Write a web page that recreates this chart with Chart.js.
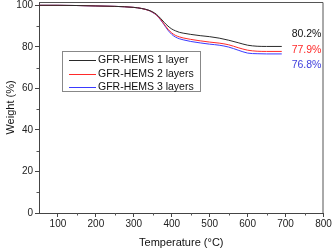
<!DOCTYPE html>
<html>
<head>
<meta charset="utf-8">
<script src="https://cdn.jsdelivr.net/npm/chart.js@4"></script>
<style>
  html, body { margin: 0; padding: 0; background: #fff; }
  #wrap { width: 333px; height: 251px; }
</style>
</head>
<body>
<div id="wrap"><canvas id="chart"></canvas></div>
<script>
// temperatures (°C)
var temps = [50, 100, 150, 200, 250, 300, 320, 340, 350, 360, 370, 380, 390, 400, 410, 420, 430, 450, 475, 500, 525, 550, 575, 600, 625, 650, 690];
// weight (%)
var layer1 = [100, 100, 99.9, 99.7, 99.5, 99.0, 98.5, 97.6, 96.8, 95.6, 93.8, 91.8, 90.0, 88.6, 87.7, 87.0, 86.6, 86.0, 85.4, 84.9, 84.2, 83.2, 82.0, 80.8, 80.3, 80.2, 80.2];
var layer2 = [100, 100, 99.9, 99.7, 99.5, 99.0, 98.5, 97.5, 96.6, 95.3, 93.3, 90.9, 88.5, 86.7, 85.5, 84.8, 84.3, 83.6, 82.9, 82.3, 81.8, 81.0, 79.6, 78.4, 77.9, 77.8, 77.8];
var layer3 = [100, 100, 99.9, 99.7, 99.5, 99.0, 98.5, 97.5, 96.5, 95.2, 93.1, 90.6, 88.0, 86.0, 84.7, 83.9, 83.4, 82.6, 81.9, 81.3, 80.8, 79.9, 78.4, 77.0, 76.7, 76.6, 76.6];
var seriesNames = ['GFR-HEMS 1 layer', 'GFR-HEMS 2 layers', 'GFR-HEMS 3 layers'];
var residueLabels = ['80.2%', '77.9%', '76.8%'];
var xTicks = [100, 200, 300, 400, 500, 600, 700, 800];
var yTicks = [0, 20, 40, 60, 80, 100];

var colors = ['#2a2a2a', '#ff2a2a', '#3a3aff'];
var labelColors = ['#111111', '#ff2a2a', '#4040dd'];

function pts(arr) {
    return temps.map(function(t, i) { return { x: t, y: arr[i] }; });
}

/* frame, minor ticks, legend, residue labels */
var extras = {
    id: 'extras',
    afterDraw: function(chart) {
        var c = chart.ctx, a = chart.chartArea;
        var xs = chart.scales.x, ys = chart.scales.y;
        c.save();
        c.strokeStyle = '#555';
        c.lineWidth = 1;
        c.beginPath();
        c.moveTo(a.left, a.top + 0.5);
        c.lineTo(a.right - 0.5, a.top + 0.5);
        c.lineTo(a.right - 0.5, a.bottom);
        c.stroke();

        // minor ticks
        c.beginPath();
        for (var v = 150; v < 800; v += 100) {
            var px = Math.round(xs.getPixelForValue(v)) + 0.5;
            c.moveTo(px, a.bottom);
            c.lineTo(px, a.bottom + 2.5);
        }
        for (var w = 10; w < 101; w += 20) {
            var py = Math.round(ys.getPixelForValue(w)) + 0.5;
            c.moveTo(a.left, py);
            c.lineTo(a.left - 2.5, py);
        }
        c.stroke();

        // legend box
        c.fillStyle = '#fff';
        c.fillRect(62, 51, 139, 41);
        c.strokeStyle = '#888';
        c.strokeRect(62.5, 51.5, 138, 40);
        c.font = '10.5px "Liberation Sans", Arial, sans-serif';
        c.textBaseline = 'middle';
        chart.data.datasets.forEach(function(ds, i) {
            var yy = 60 + i * 13.5;
            c.strokeStyle = ds.borderColor;
            c.beginPath();
            c.moveTo(69, Math.round(yy) + 0.5);
            c.lineTo(96, Math.round(yy) + 0.5);
            c.stroke();
            c.fillStyle = '#111';
            c.fillText(ds.label, 98, yy + 0.5);
        });

        // residue labels
        c.font = '10.5px "Liberation Sans", Arial, sans-serif';
        var ly = [86.2, 78.5, 71.3];
        residueLabels.forEach(function(t, i) {
            c.fillStyle = labelColors[i];
            c.fillText(t, xs.getPixelForValue(716), ys.getPixelForValue(ly[i]));
        });
        c.restore();
    }
};

var ctx = document.getElementById('chart').getContext('2d');
var chart = new Chart(ctx, {
    type: 'line',
    data: {
        datasets: [layer1, layer2, layer3].map(function(arr, i) {
            return {
                label: seriesNames[i],
                data: pts(arr),
                borderColor: colors[i],
                borderWidth: 1,
                pointRadius: 0,
                cubicInterpolationMode: 'monotone',
                fill: false
            };
        })
    },
    options: {
        responsive: true,
        maintainAspectRatio: false,
        animation: false,
        events: [],
        layout: { padding: { top: 2, right: 9.5, left: 0, bottom: 0 } },
        plugins: { legend: { display: false }, tooltip: { enabled: false } },
        scales: {
            x: {
                type: 'linear',
                min: 50,
                max: 800,
                afterBuildTicks: function(s) { s.ticks = xTicks.map(function(v) { return { value: v }; }); },
                afterFit: function(s) { s.height = 38; s.paddingLeft = 0; s.paddingRight = 0; },
                grid: { drawOnChartArea: false, tickLength: 4, color: '#444' },
                border: { color: '#444' },
                ticks: { color: '#222', padding: 1, maxRotation: 0, font: { size: 10, family: '"Liberation Sans", Arial' } },
                title: { display: true, text: 'Temperature (°C)', color: '#111', padding: { top: 0, bottom: 1 }, font: { size: 11, family: '"Liberation Sans", Arial' } }
            },
            y: {
                min: 0,
                max: 101.6,
                afterBuildTicks: function(s) { s.ticks = yTicks.map(function(v) { return { value: v }; }); },
                afterFit: function(s) { s.width = 39; s.paddingTop = 0; s.paddingBottom = 0; },
                grid: { drawOnChartArea: false, tickLength: 4, color: '#444' },
                border: { color: '#444' },
                ticks: { color: '#222', padding: 2, font: { size: 10, family: '"Liberation Sans", Arial' } },
                title: { display: true, text: 'Weight (%)', color: '#111', padding: { top: 4, bottom: 4 }, font: { size: 11, family: '"Liberation Sans", Arial' } }
            }
        }
    },
    plugins: [extras]
});
</script>
</body>
</html>
